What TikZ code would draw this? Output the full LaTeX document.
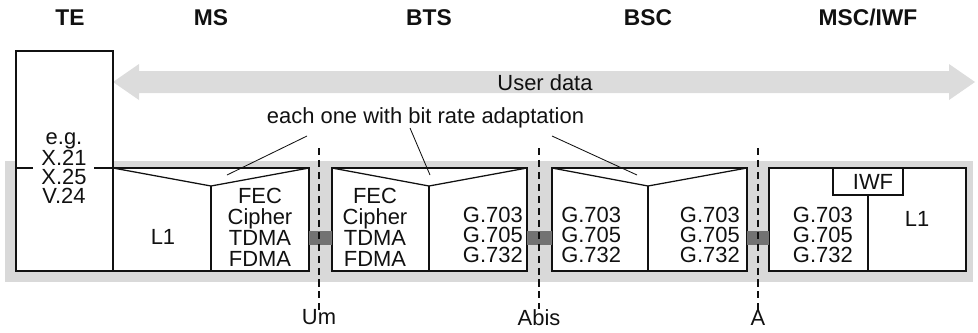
\documentclass[tikz,border=0pt]{standalone}
\usepackage{fontspec}
\setmainfont{Liberation Sans}
\usetikzlibrary{positioning,calc}
\definecolor{band}{HTML}{D9D9D9}
\definecolor{flow}{HTML}{DCDCDC}
\definecolor{link}{HTML}{727272}
\definecolor{ink}{HTML}{111111}

\tikzset{
  layer/.style={draw=ink, fill=white, line width=1.1pt},
  wedge/.style={draw=ink, line width=0.9pt, line join=miter},
  lbl/.style={font=\fontsize{15.6}{14.2}\selectfont, text=ink, align=center, inner sep=0pt},
  stack/.style={lbl, font=\fontsize{15.6}{15}\selectfont},
  tight/.style={lbl, font=\fontsize{15.6}{13.5}\selectfont},
  head/.style={lbl, font=\fontsize{16.2}{14.2}\selectfont\bfseries},
  iface/.style={draw=ink, line width=1pt, dash pattern=on 5pt off 3.5pt},
  lead/.style={draw=ink, line width=0.6pt}
}

\begin{document}
\begin{tikzpicture}[x=0.025cm, y=-0.025cm]
  \useasboundingbox (0,0) rectangle (978,332);
  \fill[band] (5,161) rectangle (973,282);
  \fill[flow] (113,82) -- (139,64) -- (139,71) -- (949,71) -- (949,64) -- (975,82)
    -- (949,100) -- (949,93) -- (139,93) -- (139,100) -- cycle;
  \node[lbl] (udata) at (545,82.5) {User data};

  \foreach \x/\t [count=\i] in {70/TE, 211/MS, 429/BTS, 648/BSC, 868/{MSC/IWF}}
    {\node[head, anchor=base] (h\i) at (\x,25) {\t};}

  \draw[layer] (16,51) rectangle (113,271);
  \draw[wedge] (16,168) -- (33,168) (94,168) -- (113,168);
  \node[tight] (te) at (64,168) {e.g.\\X.21\\X.25\\V.24};

  \foreach \l/\m/\r in {113/211/309, 332/429/527, 552/648/747}
    {\draw[layer] (\l,168) rectangle (\r,271);
     \draw[wedge] (\l,168) -- (\m,186) -- (\r,168);
     \draw[layer] (\m,186) -- (\m,271);}

  \draw[layer] (769,168) rectangle (966,271);
  \draw[layer] (833,168) rectangle (903,195);
  \draw[layer] (868,195) -- (868,271);

  \foreach \l/\r in {309/332, 527/552, 747/769}
    {\fill[link] (\l,231) rectangle (\r,245);}

  \node[lbl] (msl1) at (163,236.5) {L1};
  \node[stack] (msfec) at (260,227.3) {FEC\\Cipher\\TDMA\\FDMA};
  \node[stack] (btsfec) at (375,227.3) {FEC\\Cipher\\TDMA\\FDMA};
  \node[lbl, anchor=east, align=right] (btsg) at (523,235.3) {G.703\\G.705\\G.732};
  \node[lbl, anchor=west, align=left] (bscgl) at (561,235.3) {G.703\\G.705\\G.732};
  \node[lbl, anchor=east, align=right] (bscgr) at (740,235.3) {G.703\\G.705\\G.732};
  \node[lbl, anchor=east, align=right] (mscg) at (853,235.3) {G.703\\G.705\\G.732};
  \node[lbl] (iwf) at (873,182) {IWF};
  \node[lbl] (mscl1) at (917,219) {L1};

  \node[lbl, anchor=base] (adapt) at (425.5,123) {each one with bit rate adaptation};
  \coordinate (fms) at (307,136);
  \coordinate (fbts) at (410,128);
  \coordinate (fbsc) at (552,136);
  \coordinate (vms) at (227,175);
  \coordinate (vbts) at (430,175);
  \coordinate (vbsc) at (637,175);
  \draw[lead] (fms) -- (vms);
  \draw[lead] (fbts) -- (vbts);
  \draw[lead] (fbsc) -- (vbsc);

  \node[lbl] (um) at (319,317.5) {Um};
  \node[lbl] (abis) at (539,317.5) {Abis};
  \node[lbl] (a) at (758,317.5) {A};
  \draw[iface] (319,148) -- (um.north);
  \draw[iface] (539,148) -- (abis.north);
  \draw[iface] (758,148) -- (a.north);
\end{tikzpicture}
\end{document}
